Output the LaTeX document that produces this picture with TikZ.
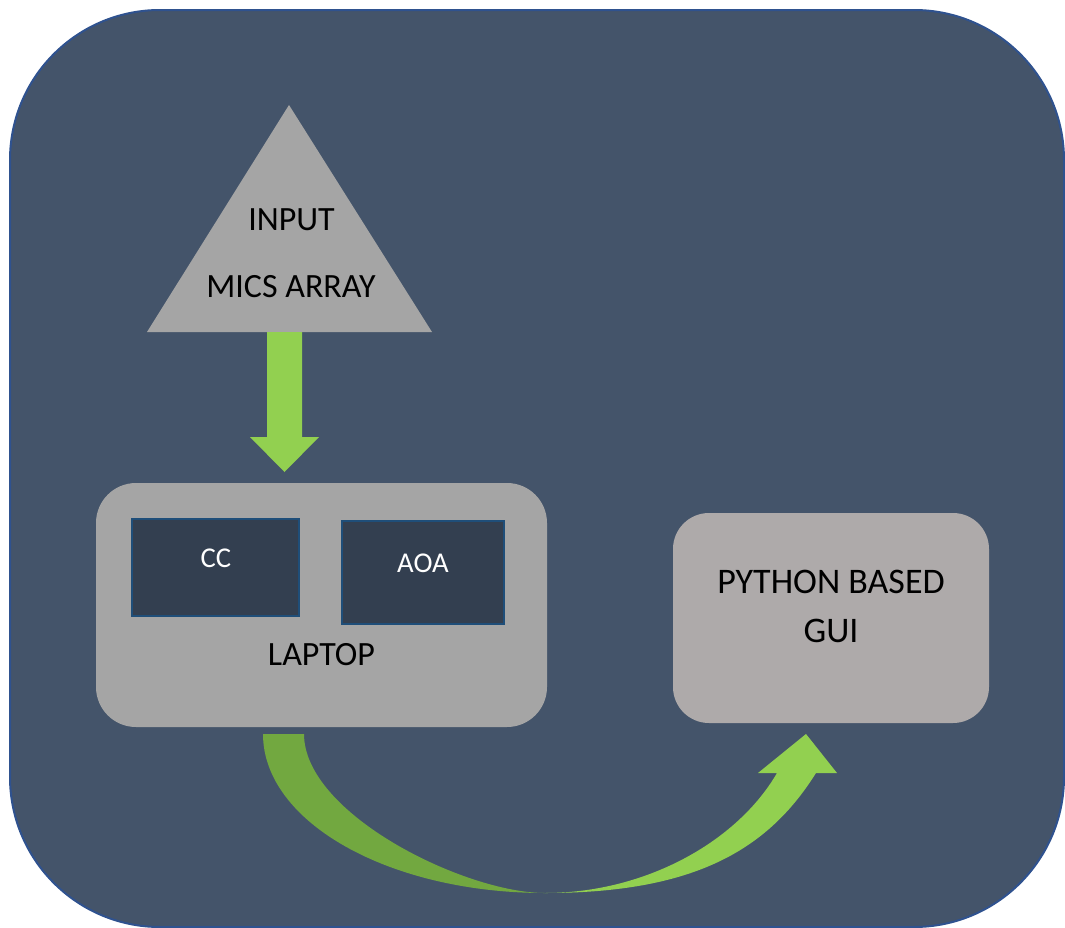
\documentclass[tikz,border=0pt]{standalone}
\usepackage{fontspec}
\setmainfont{Carlito}
\usetikzlibrary{calc}
\newdimen\px \px=0.75pt
\definecolor{slate}{HTML}{44546A}
\definecolor{frameline}{HTML}{2F528F}
\definecolor{modfill}{HTML}{333F50}
\definecolor{modline}{HTML}{1F4E79}
\definecolor{greyA}{HTML}{A5A5A5}
\definecolor{greyB}{HTML}{AEAAAA}
\definecolor{leaf}{HTML}{92D050}
\definecolor{moss}{HTML}{72A840}
\tikzset{
  frame/.style={fill=slate, draw=frameline, line width=2\px, rounded corners=150\px},
  panel/.style={fill=greyA, inner sep=0pt, rounded corners=40\px},
  guipanel/.style={fill=greyB, inner sep=0pt, rounded corners=36\px},
  module/.style={fill=modfill, draw=modline, line width=2.5\px, inner sep=0pt},
  lbl/.style={font=\fontsize{25.5}{30}\selectfont, text=black, anchor=base, inner sep=0pt},
  guilbl/.style={font=\fontsize{27}{32}\selectfont, text=black, anchor=base, inner sep=0pt},
  modlbl/.style={font=\fontsize{21.5}{26}\selectfont, text=white, anchor=base, inner sep=0pt},
  flow/.style={fill=leaf},
  flowdark/.style={fill=moss}
}
\begin{document}
\begin{tikzpicture}[x=0.75pt,y=-0.75pt]
\useasboundingbox (0,0) rectangle (1065,928);

% background panel
\draw[frame] (10,10) rectangle (1064,927);

% input triangle
\path[fill=greyA] (289,105) coordinate (apex) -- (147,332) coordinate (baseL)
  -- (432,332) coordinate (baseR) -- cycle;
\node[lbl] (input) at (291.5,230) {INPUT};
\node[lbl] (mics) at (291,297) {MICS ARRAY};

% laptop with its two modules
\node[panel, minimum width=451\px, minimum height=244\px] (laptop) at (321.5,605) {};
\node[module, minimum width=167\px, minimum height=97\px] (ccbox) at (215.5,567.5) {};
\node[module, minimum width=162\px, minimum height=103\px] (aoabox) at (423,572.5) {};
\node[modlbl] (cc) at (216,567) {CC};
\node[modlbl] (aoa) at (423,572) {AOA};
\node[lbl] (laptoplbl) at (321.5,665) {LAPTOP};

% GUI box
\node[guipanel, minimum width=316\px, minimum height=210\px] (gui) at (831,618) {};
\node[guilbl] (guil1) at (831,593) {PYTHON BASED};
\node[guilbl] (guil2) at (831,642) {GUI};

% block arrow: microphones -> laptop
\coordinate (downTop) at (284.5,332);
\coordinate (downTip) at (284.5,472);
\path[flow] ($(downTop)+(-17.5,0)$) -- ($(downTop)+(17.5,0)$) -- ($(downTip)+(17.5,-35)$)
  -- ($(downTip)+(34.5,-35)$) -- (downTip) -- ($(downTip)+(-34.5,-35)$)
  -- ($(downTip)+(-17.5,-35)$) -- cycle;

% curved block arrow: laptop -> GUI
\coordinate (curveL) at (263,734);
\coordinate (curveR) at (304,734);
\coordinate (curveLow) at (545,893);
\coordinate (headTip) at (806,734);
\path[flowdark] (curveL) .. controls (263,822) and (389,893) .. (curveLow)
  .. controls (465,893) and (304,814) .. (curveR) -- cycle;
\path[flow] (curveLow) .. controls (695,893) and (768,849.5) .. (816,773)
  -- (837,773) -- (headTip) -- (758,773) -- (777,773)
  .. controls (737,842) and (645,893) .. (curveLow) -- cycle;
\end{tikzpicture}
\end{document}
